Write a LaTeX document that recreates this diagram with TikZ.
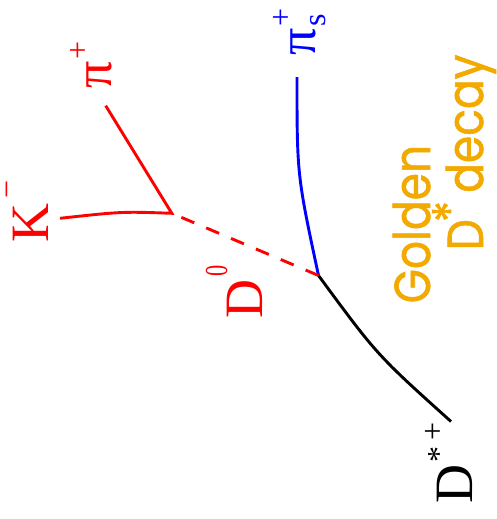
\documentclass[tikz,border=0pt]{standalone}
\usepackage{fontspec}
\setmainfont{Liberation Serif}
\newfontfamily\goldfont{Poppins}[FakeBold=1.2]
\definecolor{gold}{RGB}{242,170,0}
\newcommand\supfnt{\fontsize{32}{32}\selectfont}
\begin{document}
\begin{tikzpicture}[x=1pt,y=-1pt,
  track/.style={line width=2.9pt},
  lab/.style={inner sep=0pt, anchor=base west, rotate=90, font=\fontsize{54}{54}\selectfont},
  goldlab/.style={inner sep=0pt, anchor=base west, rotate=90, text=gold, font=\goldfont\fontsize{44}{44}\selectfont}]
\useasboundingbox (0,0) rectangle (497,519);
% vertices and track ends
\coordinate (dsE) at (451,421.5);
\coordinate (vtx) at (318.5,275.5);
\coordinate (pisE) at (297,77);
\coordinate (dv) at (171.8,213.3);
\coordinate (kE) at (60,218.3);
\coordinate (piE) at (105.7,105.7);
% tracks
\draw[track, black] (dsE) .. controls (377,355) .. (vtx);
\draw[track, blue] (vtx) .. controls (297,175) .. (pisE);
\draw[track, red, dash pattern=on 14pt off 13pt] (vtx) -- (dv);
\draw[track, red] (kE) .. controls (122,211.5) .. (dv) -- (piE);
% particle labels
\node[lab, text=red] (klab) at (48.5,242.5) {K\kern5pt\raisebox{31pt}{\supfnt −}};
\node[lab, text=red] (pilab) at (111.5,89) {π\kern2pt\raisebox{23.5pt}{\supfnt +}};
\node[lab, text=blue] (pislab) at (315,55.5) {π\kern2pt\rlap{\raisebox{23.5pt}{\supfnt +}}\raisebox{-10pt}{\supfnt s}};
\node[lab, text=red] (d0lab) at (262,318.5) {D\kern3pt\raisebox{35pt}{\supfnt\scalebox{0.7}[1]{0}}};
\node[lab, text=black] (dslab) at (472.5,503.5) {D\kern2pt\raisebox{23.5pt}{\supfnt *}\kern6pt\raisebox{29pt}{\supfnt +}};
% caption
\node[goldlab] (gold1) at (430,303.5) {\scalebox{1}[1.15]{Golden}};
\node[goldlab] (gold2) at (483,250.5) {\scalebox{1}[1.15]{D\kern-3pt\raisebox{12pt}{*}\kern8pt decay}};
\end{tikzpicture}
\end{document}
